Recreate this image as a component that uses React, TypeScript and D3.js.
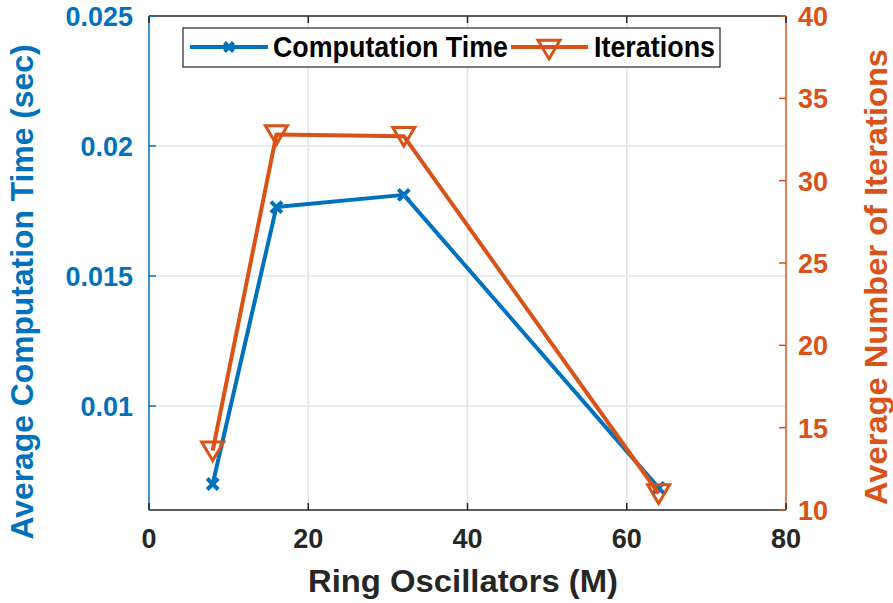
import React from "react";
import * as d3 from "d3";

const oscillators = [8, 16, 32, 64];
const compTime = [0.007, 0.01765, 0.01812, 0.00685];
const iterations = [13.6, 32.8, 32.7, 11.0];
const xTicks = [0, 20, 40, 60, 80];
const leftTicks = [0.01, 0.015, 0.02, 0.025];
const rightTicks = [10, 15, 20, 25, 30, 35, 40];

const BLUE = "#0072BD";
const ORANGE = "#D95319";
const DARK = "#262626";
const FONT = "'Liberation Sans', Arial, Helvetica, sans-serif";

export default function App() {
  const W = 893, H = 603;
  const L = 149, R = 786, T = 16, B = 510;
  const x = d3.scaleLinear().domain([0, 80]).range([L, R]);
  const yL = d3.scaleLinear().domain([0.006, 0.025]).range([B, T]);
  const yR = d3.scaleLinear().domain([10, 40]).range([B, T]);
  const lineL = d3.line<number>().x((_, i) => x(oscillators[i])).y((d) => yL(d));
  const lineR = d3.line<number>().x((_, i) => x(oscillators[i])).y((d) => yR(d));
  const tk = 7;
  const fmtL = (v: number) => String(+v.toFixed(3));
  const tri = (cx: number, cy: number, s: number) =>
    `M${cx - s},${cy - s * 0.8}L${cx + s},${cy - s * 0.8}L${cx},${cy + s * 0.9}Z`;
  const cross = (cx: number, cy: number, s: number) =>
    `M${cx - s},${cy - s}L${cx + s},${cy + s}M${cx - s},${cy + s}L${cx + s},${cy - s}`;

  return (
    <svg width={W} height={H} style={{ position: "absolute", left: 0, top: 0, background: "#fff" }} fontFamily={FONT}>
      <rect x={0} y={0} width={W} height={H} fill="#fff" />
      {/* grid */}
      {xTicks.slice(1, -1).map((t) => (
        <line key={"gx" + t} x1={x(t)} x2={x(t)} y1={T} y2={B} stroke="#e2e2e2" strokeWidth={1.5} />
      ))}
      {leftTicks.slice(0, -1).map((t) => (
        <line key={"gy" + t} x1={L} x2={R} y1={yL(t)} y2={yL(t)} stroke="#dae9f4" strokeWidth={1.5} />
      ))}
      {/* axes box */}
      <line x1={L} x2={R} y1={B} y2={B} stroke={DARK} strokeWidth={1.5} />
      <line x1={L} x2={R} y1={T} y2={T} stroke={DARK} strokeWidth={1.5} />
      <line x1={L} x2={L} y1={T} y2={B} stroke={BLUE} strokeWidth={1.5} />
      <line x1={R} x2={R} y1={T} y2={B} stroke={ORANGE} strokeWidth={1.5} />
      {xTicks.map((t) => (
        <g key={"xt" + t}>
          <line x1={x(t)} x2={x(t)} y1={B} y2={B - tk} stroke={DARK} strokeWidth={1.5} />
          <line x1={x(t)} x2={x(t)} y1={T} y2={T + tk} stroke={DARK} strokeWidth={1.5} />
          <text x={x(t)} y={B + 38} textAnchor="middle" fontSize={27} fontWeight="bold" fill={DARK}>
            {t}
          </text>
        </g>
      ))}
      {leftTicks.map((t) => (
        <g key={"lt" + t}>
          <line x1={L} x2={L + tk} y1={yL(t)} y2={yL(t)} stroke={BLUE} strokeWidth={1.5} />
          <text x={L - 16} y={yL(t) + 10} textAnchor="end" fontSize={27} fontWeight="bold" fill={BLUE}>
            {fmtL(t)}
          </text>
        </g>
      ))}
      {rightTicks.map((t) => (
        <g key={"rt" + t}>
          <line x1={R} x2={R - tk} y1={yR(t)} y2={yR(t)} stroke={ORANGE} strokeWidth={1.5} />
          <text x={R + 12} y={yR(t) + 10} textAnchor="start" fontSize={27} fontWeight="bold" fill={ORANGE}>
            {t}
          </text>
        </g>
      ))}
      {/* axis labels */}
      <text x={463} y={592} textAnchor="middle" fontSize={32} fontWeight="bold" fill={DARK}
        textLength={310} lengthAdjust="spacingAndGlyphs">
        Ring Oscillators (M)
      </text>
      <text transform={`translate(33,292) rotate(-90)`} textAnchor="middle" fontSize={32} fontWeight="bold" fill={BLUE}
        textLength={495} lengthAdjust="spacingAndGlyphs">
        Average Computation Time (sec)
      </text>
      <text transform={`translate(887,277) rotate(-90)`} textAnchor="middle" fontSize={32} fontWeight="bold" fill={ORANGE}
        textLength={456} lengthAdjust="spacingAndGlyphs">
        Average Number of Iterations
      </text>
      {/* series */}
      <path d={lineL(compTime) || ""} fill="none" stroke={BLUE} strokeWidth={4} strokeLinejoin="round" />
      {compTime.map((v, i) => (
        <path key={"m1" + i} d={cross(x(oscillators[i]), yL(v), 5.5)} stroke={BLUE} strokeWidth={4} fill="none" />
      ))}
      <path d={lineR(iterations) || ""} fill="none" stroke={ORANGE} strokeWidth={4} strokeLinejoin="round" />
      {iterations.map((v, i) => (
        <path key={"m2" + i} d={tri(x(oscillators[i]), yR(v), 11)} stroke={ORANGE} strokeWidth={3} fill="none" strokeLinejoin="miter" />
      ))}
      {/* legend */}
      <g>
        <rect x={183} y={28} width={537} height={39} fill="#fff" stroke={DARK} strokeWidth={1.2} />
        <line x1={190} x2={268} y1={47} y2={47} stroke={BLUE} strokeWidth={4} />
        <path d={cross(229, 47, 4.5)} stroke={BLUE} strokeWidth={4} fill="none" />
        <text x={273} y={57} fontSize={29} fontWeight="bold" fill="#000" textLength={235} lengthAdjust="spacingAndGlyphs">Computation Time</text>
        <line x1={511} x2={588} y1={47} y2={47} stroke={ORANGE} strokeWidth={4} />
        <path d={tri(549, 49, 11)} stroke={ORANGE} strokeWidth={3} fill="none" />
        <text x={594} y={57} fontSize={29} fontWeight="bold" fill="#000" textLength={121} lengthAdjust="spacingAndGlyphs">Iterations</text>
      </g>
    </svg>
  );
}
